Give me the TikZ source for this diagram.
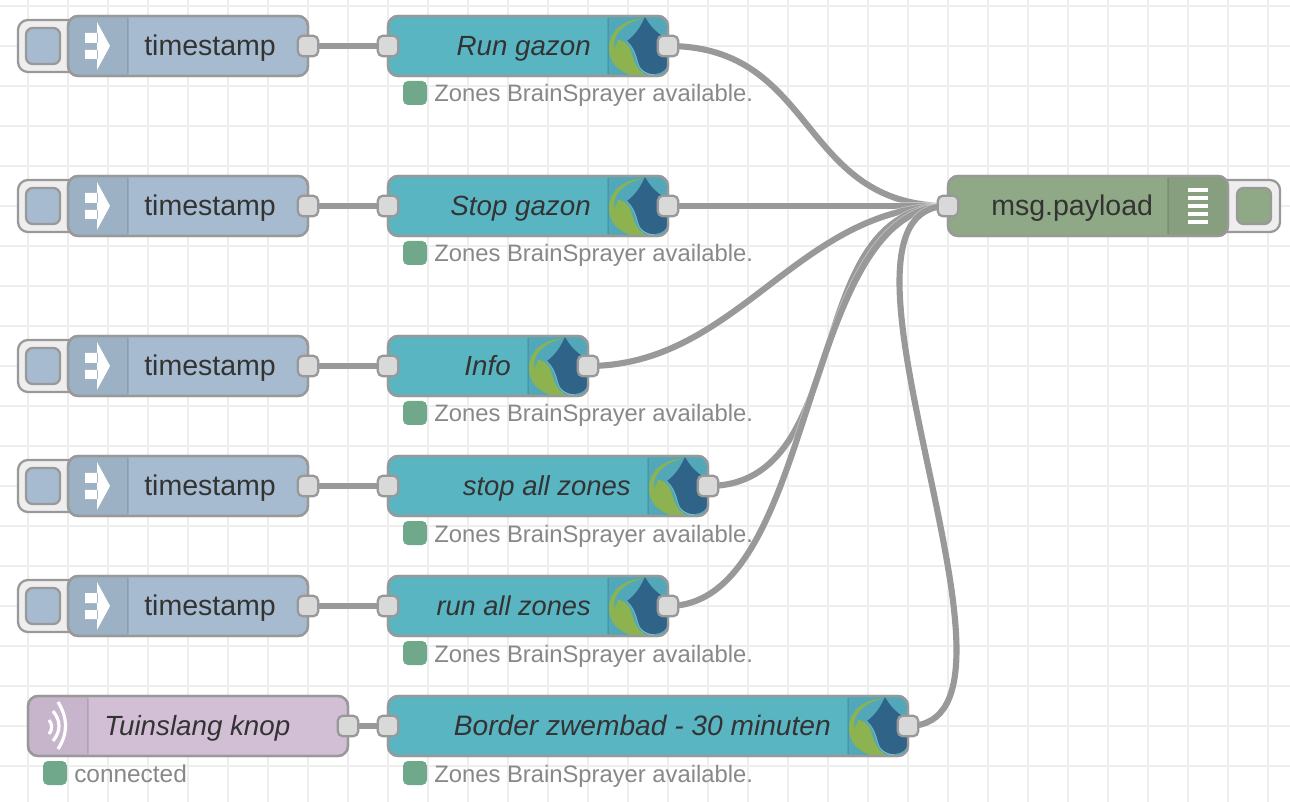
\documentclass[tikz,border=0pt]{standalone}
\usepackage{fontspec}
\setmainfont{Liberation Sans}
\usetikzlibrary{calc,backgrounds}
\definecolor{edgeg}{HTML}{999999}
\definecolor{gridc}{HTML}{EEEEEE}
\definecolor{tsc}{HTML}{A6BBCF}
\definecolor{tealc}{HTML}{5AB5C3}
\definecolor{dbgc}{HTML}{8FA886}
\definecolor{mqttc}{HTML}{D2BFD6}
\definecolor{statc}{HTML}{6FA88A}
\definecolor{dropc}{HTML}{2F6488}
\definecolor{leafc}{HTML}{8CB350}
\definecolor{sectc}{HTML}{52A8B8}
\definecolor{labelc}{HTML}{333333}
\definecolor{stattxt}{HTML}{888888}
\tikzset{
 x=0.75pt,y=-0.75pt,
 body/.style={draw=edgeg,line width=1.7pt,rounded corners=7.5pt,inner sep=0pt,outer sep=0pt,minimum height=45pt},
 portbox/.style={draw=edgeg,fill=black!15,line width=1.7pt,rounded corners=4pt,inner sep=0pt,outer sep=0pt,minimum width=15.5pt,minimum height=15.5pt},
 wire/.style={draw=edgeg,line width=4.6pt},
 wirehalo/.style={draw=white,opacity=0.4,line width=5.8pt},
 btnouter/.style={draw=edgeg,fill=gridc,line width=1.7pt,rounded corners=7.5pt},
 btninner/.style={draw=edgeg,line width=1.7pt,rounded corners=5pt,inner sep=0pt,outer sep=0pt,minimum width=25.5pt,minimum height=27pt},
 statusbox/.style={fill=statc,rounded corners=3.75pt,inner sep=0pt,outer sep=0pt,minimum width=18pt,minimum height=18pt},
 stattext/.style={text=stattxt,inner sep=0pt,font=\fontsize{17.85}{20}\selectfont,anchor=base west},
 mainlabel/.style={text=labelc,inner sep=0pt,font=\fontsize{21.4}{24}\selectfont},
 itlabel/.style={text=labelc,inner sep=0pt,font=\fontsize{20.8}{24}\selectfont\itshape},
 divider/.style={line width=1.5pt,draw=black,opacity=0.1},
 outline/.style={draw=edgeg,line width=1.7pt,rounded corners=7.5pt},
}
% #1 name, #2 y
\newcommand{\TsRow}[2]{%
 \draw[btnouter] (18,#2-26) rectangle (80,#2+26);
 \node[btninner,fill=tsc] (#1btn) at (43,#2) {};
 \node[body,fill=tsc,minimum width=180pt] (#1) at (188,#2) {};
 \begin{scope}
  \clip[rounded corners=7.5pt] (68,#2-30) rectangle (308,#2+30);
  \fill[black,opacity=0.05] (68,#2-30) rectangle (128,#2+30);
 \end{scope}
 \draw[divider] (128,#2-28) -- (128,#2+28);
 \draw[outline] (68,#2-30) rectangle (308,#2+30);
 \fill[white] (85,#2-13) rectangle (98,#2-3) (85,#2+4) rectangle (98,#2+13)
   (97,#2-24) -- (110,#2) -- (97,#2+24) -- cycle;
 \node[mainlabel,anchor=base west] (#1txt) at (144,#2+9.5) {timestamp};
 \node[portbox] (#1out) at (308,#2) {};
}
% #1 name, #2 y, #3 right x, #4 text
\newcommand{\TealRow}[4]{%
 \node[body,fill=tealc,minimum width={(#3-388)*0.75pt}] (#1) at ({(#3+388)/2},#2) {};
 \begin{scope}
  \clip[rounded corners=7.5pt] (388,#2-30) rectangle (#3,#2+30);
  \begin{scope}[shift={(#3-60,#2)}]
   \fill[sectc] (0,-30) rectangle (60,30);
   \fill[leafc] (36,-28) .. controls (12,-26) and (1,-12) .. (1,2) .. controls (1,18) and (12,28) .. (30,30)
      -- (38,30) .. controls (18,25) and (6,12) .. (6,0) .. controls (6,-14) and (18,-24) .. (36,-28) -- cycle;
   \fill[leafc] (10,-6) .. controls (16,-6) and (20,-2) .. (23,5) .. controls (26,14) and (28,25) .. (40,30) -- (26,30)
      .. controls (16,28) and (5,20) .. (5,8) .. controls (5,3) and (8,0) .. (10,-6) -- cycle;
   \draw[tealc!80!white,line width=1.1pt] (19,-5) .. controls (25,0) and (28,8) .. (30,16)
      .. controls (32,24) and (38,28) .. (46,29);
   \fill[dropc] (37,-29) .. controls (32,-18) and (27,-11) .. (19,-5) .. controls (25,0) and (28,8) .. (30,16)
      .. controls (32,24) and (38,28) .. (46,28) .. controls (52,28) and (60,24) .. (62,14) -- (62,-6)
      .. controls (52,-10) and (43,-18) .. (37,-29) -- cycle;
  \end{scope}
 \end{scope}
 \draw[divider] (#3-60,#2-28) -- (#3-60,#2+28);
 \draw[outline] (388,#2-30) rectangle (#3,#2+30);
 \node[itlabel,anchor=base east] (#1txt) at (#3-77,#2+9.5) {#4};
 \node[portbox] (#1in) at (388,#2) {};
 \node[portbox] (#1out) at (#3,#2) {};
 \node[statusbox] (#1st) at (415,#2+47) {};
 \node[stattext] (#1sttxt) at (434,#2+56) {Zones BrainSprayer available.};
}
\begin{document}
\begin{tikzpicture}
\useasboundingbox (0,0) rectangle (1290,802);
\TsRow{ta}{46}
\TsRow{tb}{206}
\TsRow{tc}{366}
\TsRow{td}{486}
\TsRow{te}{606}
\TealRow{ra}{46}{668}{Run gazon}
\TealRow{rb}{206}{668}{Stop gazon}
\TealRow{rc}{366}{588}{Info}
\TealRow{rd}{486}{708}{\fontsize{20.6}{24}\selectfont stop all zones}
\TealRow{re}{606}{668}{\fontsize{20.4}{24}\selectfont run all zones}
\TealRow{rf}{726}{908}{\fontsize{21.1}{24}\selectfont Border zwembad - 30 minuten}
% debug node
\draw[btnouter] (1200,180) rectangle (1280,232);
\node[btninner,fill=dbgc] (dbgbtn) at (1254,206) {};
\node[body,fill=dbgc,minimum width=210pt] (dbg) at (1088,206) {};
\begin{scope}
 \clip[rounded corners=7.5pt] (948,176) rectangle (1228,236);
 \fill[black,opacity=0.05] (1168,176) rectangle (1228,236);
\end{scope}
\draw[divider] (1168,178) -- (1168,234);
\draw[outline] (948,176) rectangle (1228,236);
\foreach \yy in {190,198,206,214,222}{\fill[white] (1188,\yy-1.75) rectangle (1208,\yy+1.75);}
\node[mainlabel,anchor=base west] (dbgtxt) at (991,215.5) {msg.payload};
\node[portbox] (dbgin) at (948,206) {};
% mqtt node
\node[body,fill=mqttc,minimum width=240pt] (mq) at (188,726) {};
\begin{scope}
 \clip[rounded corners=7.5pt] (28,696) rectangle (348,756);
 \fill[black,opacity=0.05] (28,696) rectangle (88,756);
\end{scope}
\draw[divider] (88,698) -- (88,754);
\draw[outline] (28,696) rectangle (348,756);
\draw[white,line width=2.4pt] (58,702) .. controls (68,718) and (68,734) .. (58,749);
\draw[white,line width=2.4pt] (53,711) .. controls (61,721) and (61,731) .. (53,741);
\draw[white,line width=2.4pt] (49,720) .. controls (52.5,724) and (52.5,730) .. (49,734);
\node[itlabel,anchor=base west] (mqtxt) at (104,735.5) {Tuinslang knop};
\node[portbox] (mqout) at (348,726) {};
\node[statusbox] (mqst) at (55,773) {};
\node[stattext,font=\fontsize{18.3}{20}\selectfont] (mqsttxt) at (74,782) {connected};
% grid and wires
\begin{pgfonlayer}{background}
 \fill[white] (0,0) rectangle (1290,802);
 \foreach \gx in {28,68,...,1268}{\draw[gridc,line width=1.5pt] (\gx,0) -- (\gx,802);}
 \foreach \gy in {6,46,...,766}{\draw[gridc,line width=1.5pt] (0,\gy) -- (1290,\gy);}
 \foreach \a/\b in {taout/rain,tbout/rbin,tcout/rcin,tdout/rdin,teout/rein,mqout/rfin}{\draw[wire] (\a.center) -- (\b.center);}
 \foreach \a in {raout,rbout,rcout,rdout,reout,rfout}{
  \draw[wirehalo] (\a.center) .. controls ($(\a.center)+(150,0)$) and ($(dbgin.center)+(-150,0)$) .. (dbgin.center);
  \draw[wire] (\a.center) .. controls ($(\a.center)+(150,0)$) and ($(dbgin.center)+(-150,0)$) .. (dbgin.center);}
\end{pgfonlayer}
\end{tikzpicture}
\end{document}
